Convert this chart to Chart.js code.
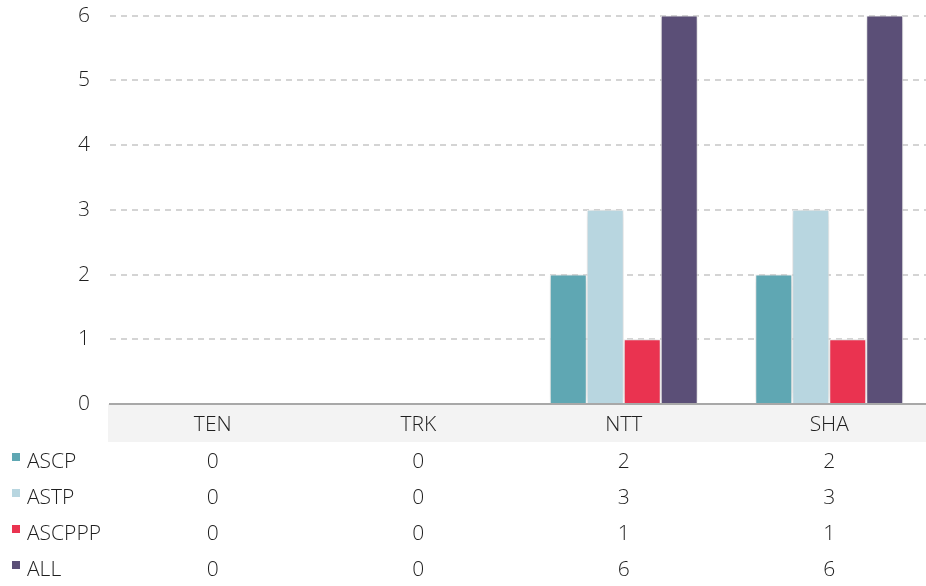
<!DOCTYPE html>
<html>
<head>
<meta charset="utf-8">
<script src="https://cdn.jsdelivr.net/npm/chart.js@4/dist/chart.umd.min.js"></script>
<style>
  html, body { margin: 0; padding: 0; background: #fff; }
  #wrap { width: 926px; height: 586px; position: relative; overflow: hidden; }
  #chart { position: absolute; left: 0; top: -17px; }
</style>
</head>
<body>
<div id="wrap"><canvas id="chart" width="932" height="605"></canvas></div>
<script>
const categories = ["TEN", "TRK", "NTT", "SHA"]
const seriesNames = ["ASCP", "ASTP", "ASCPPP", "ALL"]
const ascpValues = [0, 0, 2, 2]
const astpValues = [0, 0, 3, 3]
const ascppValues = [0, 0, 1, 1]
const allValues = [0, 0, 6, 6]
const seriesColors = ["#5fa7b3", "#b8d6e0", "#ea3350", "#5b4f77"]
const yTicks = [0, 1, 2, 3, 4, 5, 6]

const seriesValues = [ascpValues, astpValues, ascppValues, allValues]
const FONT = "'Open Sans', 'Noto Sans', sans-serif"
const TEXT = "#1f1f1f"
const FONT_SIZE = 21
const FONT_WEIGHT = 350

// grey band behind the category labels
const labelBand = {
  id: "labelBand",
  beforeDraw(chart) {
    const { ctx, chartArea, scales } = chart
    const x = scales.x
    ctx.save()
    ctx.fillStyle = "#f3f3f3"
    ctx.fillRect(chartArea.left - 2, x.top, chartArea.right - chartArea.left + 2, x.bottom - x.top)
    ctx.restore()
  },
}

// soft shadow around the bars
const barShadow = {
  id: "barShadow",
  beforeDatasetDraw(chart) {
    const ctx = chart.ctx
    ctx.save()
    ctx.shadowColor = "rgba(0,0,0,0.22)"
    ctx.shadowBlur = 12
  },
  afterDatasetDraw(chart) {
    chart.ctx.restore()
  },
}

// data table under the axis: legend swatch, series name, one value per category
const dataTable = {
  id: "dataTable",
  afterDraw(chart) {
    const { ctx, scales } = chart
    const x = scales.x
    const firstRow = x.bottom + 20
    const rowGap = 36
    ctx.save()
    ctx.font = FONT_WEIGHT + " " + FONT_SIZE + "px " + FONT
    ctx.textBaseline = "middle"
    seriesNames.forEach((name, i) => {
      const y = firstRow + i * rowGap
      ctx.fillStyle = seriesColors[i]
      ctx.fillRect(12, y - 9, 8, 8)
      ctx.fillStyle = TEXT
      ctx.textAlign = "left"
      ctx.fillText(name, 27, y)
      ctx.textAlign = "center"
      seriesValues[i].forEach((v, j) => {
        ctx.fillText(String(v), x.getPixelForValue(j), y)
      })
    })
    ctx.restore()
  },
}

new Chart(document.getElementById("chart"), {
  type: "bar",
  data: {
    labels: categories,
    datasets: seriesNames.map((name, i) => ({
      label: name,
      data: seriesValues[i],
      backgroundColor: seriesColors[i],
      borderColor: "#ffffff",
      borderWidth: 1,
      borderSkipped: "bottom",
      barPercentage: 1,
      categoryPercentage: 0.72,
    })),
  },
  options: {
    responsive: false,
    animation: false,
    layout: { padding: { top: 0, right: 0, bottom: 146, left: 0 } },
    plugins: {
      legend: { display: false },
      tooltip: { enabled: false },
    },
    scales: {
      x: {
        grid: { display: false, drawTicks: false },
        border: { display: true, color: "#a8a8a8", width: 2 },
        ticks: { color: TEXT, font: { family: FONT, size: FONT_SIZE, weight: FONT_WEIGHT }, padding: 8 },
        afterFit(scale) { scale.height = 38 },
      },
      y: {
        min: 0,
        max: 6,
        afterBuildTicks(scale) { scale.ticks = yTicks.map(v => ({ value: v })) },
        grid: { color: "#d4d4d4", drawTicks: false, lineWidth: 2 },
        border: { display: false, dash: [6, 5] },
        ticks: { color: TEXT, font: { family: FONT, size: FONT_SIZE, weight: FONT_WEIGHT }, padding: 20 },
        afterFit(scale) { scale.width = 110 },
      },
    },
  },
  plugins: [labelBand, barShadow, dataTable],
})
</script>
</body>
</html>
